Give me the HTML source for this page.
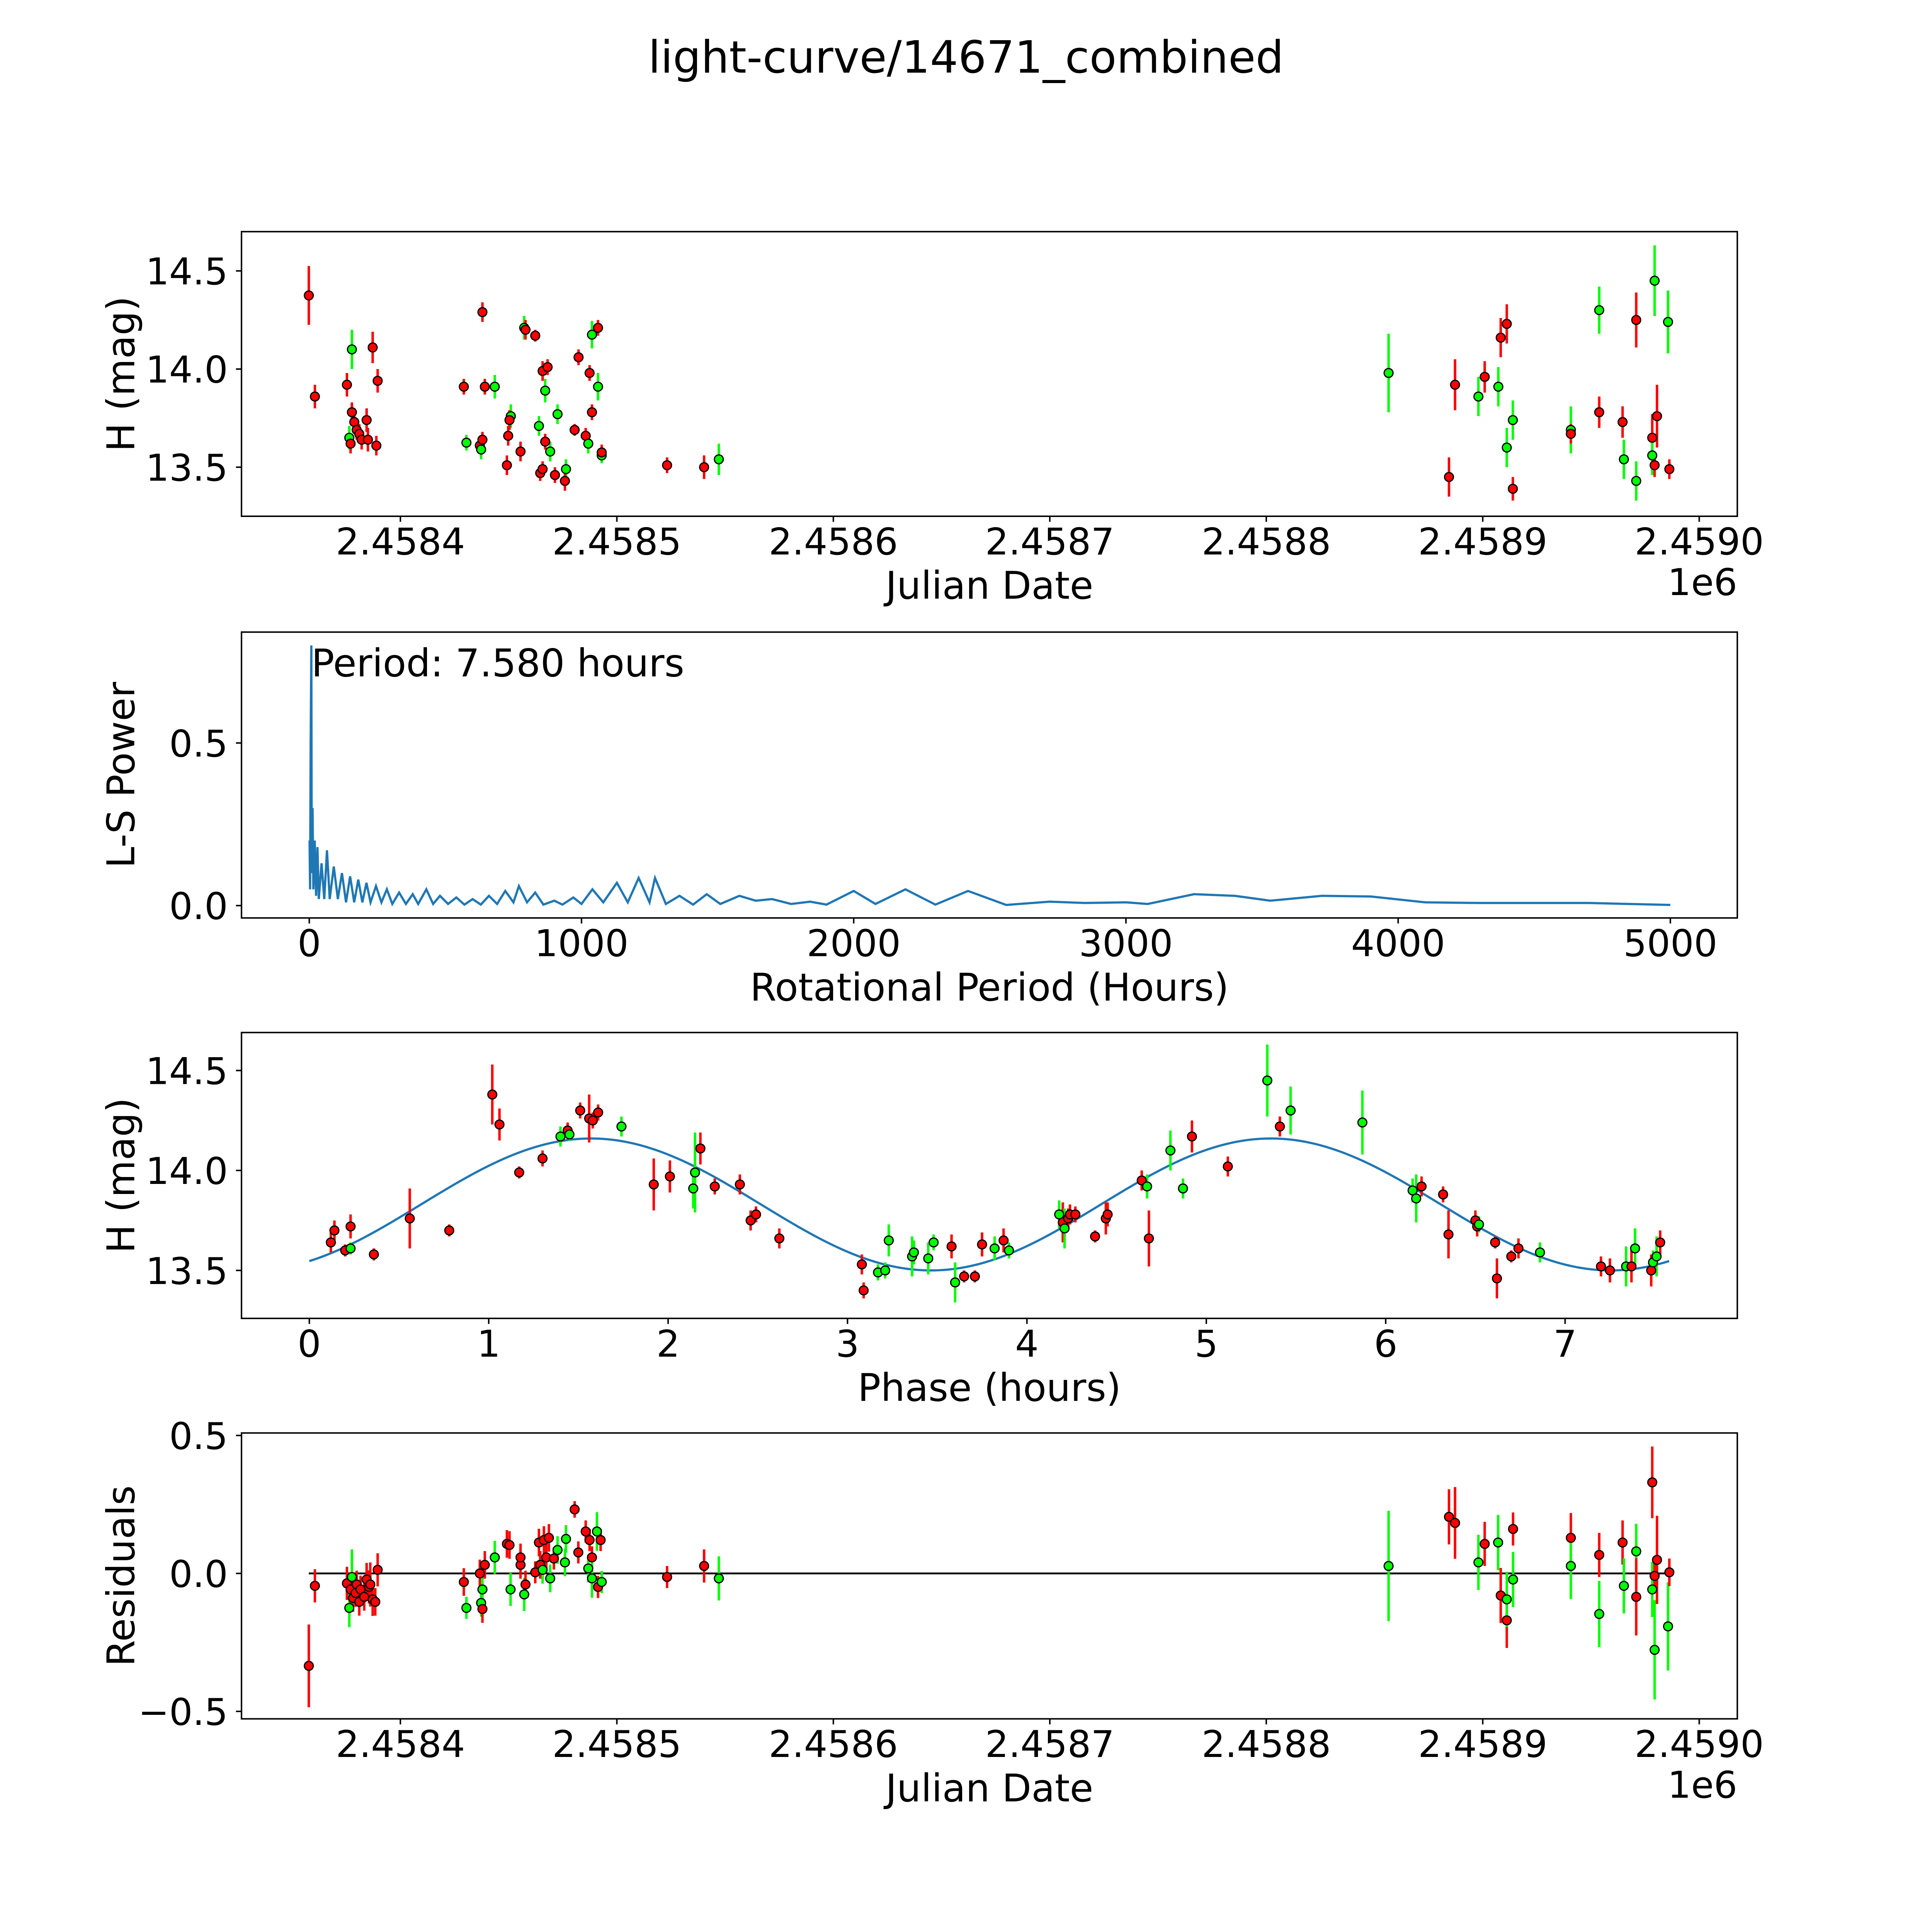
<!DOCTYPE html>
<html><head><meta charset="utf-8">
<style>
html,body{margin:0;padding:0;background:#fff;width:100%;height:100%;overflow:hidden}
#fig{display:block;position:absolute;left:0;top:0;width:100vw;height:100vh}
text{font-family:"DejaVu Sans","Liberation Sans",sans-serif;fill:#000}
</style>
</head><body>
<svg id="fig" xmlns="http://www.w3.org/2000/svg" viewBox="0 0 1568 1568" preserveAspectRatio="none">
<rect width="1568" height="1568" fill="#fff"/>
<text x="784" y="59" font-size="36" text-anchor="middle">light-curve/14671_combined</text>
</svg>
<script>
// Panel 1: [julian date, H mag, error, band]
const lcObs = [
[2458357.7,14.375,0.15,'r'],[2458360.5,13.86,0.06,'r'],[2458375.3,13.92,0.06,'r'],[2458377.6,14.10,0.1,'g'],[2458376.4,13.65,0.06,'g'],
[2458377.0,13.62,0.05,'r'],[2458377.6,13.78,0.05,'r'],[2458378.7,13.73,0.05,'r'],[2458379.8,13.69,0.05,'r'],[2458381.0,13.67,0.05,'r'],
[2458382.1,13.64,0.05,'r'],[2458384.4,13.74,0.06,'r'],[2458385.0,13.64,0.06,'r'],[2458387.2,14.11,0.08,'r'],[2458388.9,13.61,0.05,'r'],
[2458389.5,13.94,0.06,'r'],[2458429.3,13.91,0.04,'r'],[2458430.5,13.625,0.04,'g'],[2458436.7,13.61,0.04,'r'],[2458437.3,13.59,0.05,'g'],
[2458437.9,14.29,0.05,'r'],[2458439.0,13.91,0.04,'r'],[2458443.6,13.91,0.06,'g'],[2458437.9,13.64,0.04,'r'],[2458449.2,13.51,0.05,'r'],
[2458449.8,13.66,0.05,'r'],[2458451.0,13.76,0.06,'g'],[2458450.4,13.74,0.05,'r'],[2458455.5,13.58,0.05,'r'],[2458457.2,14.21,0.06,'g'],
[2458457.8,14.20,0.05,'r'],[2458462.3,14.17,0.03,'r'],[2458464.0,13.71,0.05,'g'],[2458464.6,13.47,0.04,'r'],[2458465.7,13.49,0.04,'r'],
[2458465.7,13.99,0.05,'r'],[2458466.9,13.89,0.06,'g'],[2458468.0,14.01,0.04,'r'],[2458466.9,13.63,0.04,'r'],[2458469.2,13.58,0.05,'g'],
[2458471.4,13.46,0.04,'r'],[2458472.6,13.77,0.05,'g'],[2458476.5,13.49,0.05,'g'],[2458476.0,13.43,0.05,'r'],[2458480.5,13.69,0.03,'r'],
[2458482.3,14.06,0.04,'r'],[2458485.6,13.66,0.04,'r'],[2458486.8,13.62,0.05,'g'],[2458487.4,13.98,0.04,'r'],[2458488.5,13.78,0.04,'r'],
[2458488.5,14.175,0.07,'g'],[2458491.3,14.21,0.04,'r'],[2458491.3,13.91,0.07,'g'],[2458493.0,13.56,0.04,'g'],[2458493.0,13.575,0.04,'r'],
[2458523.2,13.51,0.04,'r'],[2458540.3,13.50,0.06,'r'],[2458547.1,13.54,0.08,'g'],[2458856.5,13.98,0.2,'g'],[2458884.4,13.45,0.1,'r'],
[2458887.2,13.92,0.13,'r'],[2458898.0,13.86,0.1,'g'],[2458900.9,13.96,0.08,'r'],[2458907.2,13.91,0.1,'g'],[2458908.3,14.16,0.1,'r'],
[2458911.1,14.23,0.1,'r'],[2458911.1,13.60,0.1,'g'],[2458913.9,13.74,0.1,'g'],[2458913.9,13.39,0.06,'r'],[2458940.7,13.69,0.12,'g'],
[2458940.7,13.67,0.05,'r'],[2458953.8,14.30,0.12,'g'],[2458953.8,13.78,0.08,'r'],[2458964.6,13.73,0.08,'r'],[2458965.2,13.54,0.1,'g'],
[2458970.9,14.25,0.14,'r'],[2458970.9,13.43,0.1,'g'],[2458978.3,13.65,0.12,'r'],[2458978.3,13.56,0.1,'g'],[2458979.4,14.45,0.18,'g'],
[2458979.4,13.51,0.06,'r'],[2458980.5,13.76,0.16,'r'],[2458985.6,14.24,0.16,'g'],[2458986.2,13.49,0.05,'r']
];
// Panel 2: periodogram [period hours, power]
const lsPeriod = [1,3,5,7.58,9,12,15,20,25,30,35,45,55,65,75,90,105,120,135,150,165,180,195,210,225,245,265,285,305,330,355,380,400,430,455,480,510,540,570,600,630,660,690,720,750,770,800,830,860,900,930,970,1000,1040,1080,1130,1170,1210,1250,1270,1310,1360,1410,1460,1510,1580,1640,1700,1770,1840,1900,2000,2080,2190,2300,2420,2560,2720,2850,3000,3080,3250,3400,3530,3720,3900,4100,4300,4700,5000];
const lsPower = [0.2,0.05,0.5,0.8,0.1,0.3,0.05,0.2,0.03,0.18,0.02,0.13,0.02,0.17,0.02,0.12,0.02,0.1,0.01,0.09,0.01,0.08,0.01,0.07,0.01,0.06,0.01,0.05,0.005,0.04,0.005,0.035,0.005,0.05,0.005,0.03,0.005,0.025,0.003,0.02,0.003,0.03,0.005,0.045,0.01,0.06,0.01,0.04,0.003,0.015,0.003,0.025,0.005,0.05,0.01,0.07,0.01,0.085,0.01,0.085,0.005,0.03,0.003,0.035,0.005,0.03,0.015,0.02,0.005,0.012,0.003,0.045,0.005,0.05,0.003,0.045,0.002,0.012,0.008,0.01,0.005,0.035,0.03,0.015,0.03,0.028,0.01,0.008,0.008,0.002];
const periodLabel = "Period: 7.580 hours";
// Panel 3: [phase hours, mag, err, band]
const phObs = [
[0.12,13.64,0.05,'r'],[0.14,13.70,0.05,'r'],[0.20,13.60,0.03,'r'],[0.23,13.61,0.03,'g'],[0.23,13.72,0.06,'r'],[0.36,13.58,0.03,'r'],[0.56,13.76,0.15,'r'],[0.78,13.70,0.03,'r'],
[1.02,14.38,0.15,'r'],[1.06,14.23,0.08,'r'],[1.17,13.99,0.03,'r'],[1.30,14.06,0.04,'r'],[1.40,14.17,0.05,'g'],[1.44,14.20,0.04,'r'],[1.45,14.18,0.03,'g'],[1.51,14.30,0.04,'r'],
[1.56,14.26,0.12,'r'],[1.58,14.25,0.04,'r'],[1.61,14.29,0.04,'r'],[1.74,14.22,0.05,'g'],[1.92,13.93,0.13,'r'],[2.01,13.97,0.08,'r'],[2.14,13.91,0.1,'g'],[2.15,13.99,0.2,'g'],
[2.18,14.11,0.08,'r'],[2.26,13.92,0.04,'r'],[2.40,13.93,0.05,'r'],[2.46,13.75,0.05,'r'],[2.49,13.78,0.04,'r'],[2.62,13.66,0.05,'r'],[3.08,13.53,0.05,'r'],[3.09,13.40,0.04,'r'],
[3.17,13.49,0.04,'g'],[3.21,13.50,0.04,'g'],[3.23,13.65,0.08,'g'],[3.36,13.57,0.1,'g'],[3.37,13.59,0.06,'g'],[3.45,13.56,0.08,'g'],[3.48,13.64,0.04,'g'],[3.58,13.62,0.06,'r'],
[3.60,13.44,0.1,'g'],[3.65,13.47,0.03,'r'],[3.71,13.47,0.03,'r'],[3.75,13.63,0.06,'r'],[3.82,13.61,0.06,'g'],[3.87,13.65,0.06,'r'],[3.90,13.60,0.04,'g'],[4.18,13.78,0.07,'g'],
[4.20,13.74,0.1,'r'],[4.21,13.71,0.1,'g'],[4.23,13.76,0.05,'r'],[4.24,13.78,0.05,'r'],[4.27,13.78,0.04,'r'],[4.38,13.67,0.03,'r'],[4.44,13.76,0.08,'r'],[4.45,13.78,0.06,'r'],
[4.64,13.95,0.05,'r'],[4.67,13.92,0.06,'g'],[4.80,14.10,0.1,'g'],[4.87,13.91,0.05,'g'],[4.68,13.66,0.14,'r'],[4.92,14.17,0.08,'r'],[5.12,14.02,0.05,'r'],[5.34,14.45,0.18,'g'],
[5.41,14.22,0.05,'r'],[5.47,14.30,0.12,'g'],[5.87,14.24,0.16,'g'],[6.15,13.90,0.06,'g'],[6.17,13.86,0.12,'g'],[6.20,13.92,0.05,'r'],[6.32,13.88,0.04,'r'],[6.35,13.68,0.12,'r'],
[6.50,13.75,0.05,'r'],[6.51,13.72,0.05,'r'],[6.52,13.73,0.04,'g'],[6.61,13.64,0.03,'r'],[6.62,13.46,0.1,'r'],[6.70,13.57,0.03,'r'],[6.74,13.61,0.05,'r'],[6.86,13.59,0.05,'g'],
[7.20,13.52,0.05,'r'],[7.25,13.50,0.06,'r'],[7.34,13.52,0.1,'g'],[7.37,13.52,0.08,'r'],[7.39,13.61,0.1,'g'],[7.48,13.50,0.08,'r'],[7.49,13.54,0.06,'g'],[7.51,13.57,0.1,'g'],[7.53,13.64,0.06,'r']
];
// sinusoid fit parameters
const fitMean = 13.83, fitAmp = 0.33, fitPeak = 1.57, fitHalfPeriod = 3.79, fitEnd = 7.58;
// Panel 4: [julian date, residual, err, band]
const resObs = [
[2458357.7,-0.335,0.15,'r'],[2458360.5,-0.045,0.06,'r'],[2458375.3,-0.036,0.06,'r'],[2458376.4,-0.125,0.07,'g'],[2458377.0,-0.058,0.05,'r'],[2458377.6,-0.013,0.1,'g'],
[2458378.1,-0.089,0.05,'r'],[2458379.3,-0.071,0.05,'r'],[2458379.8,-0.040,0.05,'r'],[2458381.0,-0.103,0.05,'r'],[2458381.6,-0.058,0.05,'r'],[2458383.3,-0.085,0.05,'r'],
[2458384.4,-0.022,0.06,'r'],[2458385.5,-0.049,0.06,'r'],[2458386.1,-0.040,0.08,'r'],[2458387.2,-0.094,0.06,'r'],[2458388.4,-0.103,0.05,'r'],[2458389.5,0.013,0.06,'r'],
[2458429.3,-0.031,0.05,'r'],[2458430.5,-0.125,0.04,'g'],[2458436.7,0,0.05,'r'],[2458437.3,-0.107,0.05,'g'],[2458437.9,-0.129,0.05,'r'],[2458437.9,-0.058,0.05,'g'],
[2458439.0,0.031,0.05,'r'],[2458443.6,0.058,0.06,'g'],[2458449.2,0.107,0.05,'r'],[2458450.4,0.103,0.05,'r'],[2458450.9,-0.058,0.06,'g'],[2458455.5,0.031,0.05,'r'],
[2458455.5,0.058,0.05,'r'],[2458457.2,-0.076,0.06,'g'],[2458457.8,-0.040,0.05,'r'],[2458462.3,0.004,0.04,'r'],[2458464.0,0.112,0.05,'r'],[2458464.6,0.031,0.05,'r'],
[2458465.7,0.013,0.05,'g'],[2458466.3,0.121,0.05,'r'],[2458467.4,0.058,0.05,'r'],[2458468.6,0.129,0.05,'r'],[2458469.2,-0.018,0.05,'g'],[2458470.9,0.054,0.04,'r'],
[2458472.6,0.085,0.05,'g'],[2458476.0,0.040,0.05,'g'],[2458476.5,0.125,0.05,'g'],[2458480.5,0.232,0.03,'r'],[2458482.2,0.076,0.04,'r'],[2458485.6,0.152,0.04,'r'],
[2458486.8,0.018,0.05,'g'],[2458487.4,0.121,0.04,'r'],[2458488.5,0.058,0.04,'r'],[2458488.5,-0.018,0.07,'g'],[2458490.8,0.152,0.07,'g'],[2458491.3,-0.049,0.04,'r'],
[2458492.5,0.121,0.04,'r'],[2458493.0,-0.031,0.04,'g'],[2458523.2,-0.013,0.04,'r'],[2458540.3,0.027,0.06,'r'],[2458547.1,-0.018,0.08,'g'],[2458856.5,0.027,0.2,'g'],
[2458884.4,0.205,0.1,'r'],[2458887.2,0.183,0.13,'r'],[2458898.0,0.040,0.1,'g'],[2458900.9,0.107,0.08,'r'],[2458907.1,0.112,0.1,'g'],[2458908.3,-0.080,0.1,'r'],
[2458911.1,-0.170,0.1,'r'],[2458911.1,-0.094,0.1,'g'],[2458914.0,0.161,0.06,'r'],[2458914.0,-0.022,0.1,'g'],[2458940.7,0.129,0.09,'r'],[2458940.7,0.027,0.12,'g'],
[2458953.8,0.067,0.08,'r'],[2458953.8,-0.147,0.12,'g'],[2458964.6,0.112,0.08,'r'],[2458965.2,-0.045,0.1,'g'],[2458970.9,0.080,0.1,'g'],[2458970.9,-0.085,0.14,'r'],
[2458978.3,0.330,0.13,'r'],[2458978.3,-0.058,0.1,'g'],[2458979.4,-0.277,0.18,'g'],[2458979.4,-0.009,0.06,'r'],[2458980.5,0.049,0.16,'r'],[2458985.6,-0.192,0.16,'g'],[2458986.2,0.004,0.05,'r']
];
const jdTicks = [2458400,2458500,2458600,2458700,2458800,2458900,2459000];
const jdTickLabels = ["2.4584","2.4585","2.4586","2.4587","2.4588","2.4589","2.4590"];
const magTicks = [13.5,14.0,14.5];
const magTickLabels = ["13.5","14.0","14.5"];
const powTicks = [0,0.5];
const powTickLabels = ["0.0","0.5"];
const perTicks = [0,1000,2000,3000,4000,5000];
const perTickLabels = ["0","1000","2000","3000","4000","5000"];
const phTicks = [0,1,2,3,4,5,6,7];
const phTickLabels = ["0","1","2","3","4","5","6","7"];
const resTicks = [-0.5,0,0.5];
const resTickLabels = ["\u22120.5","0.0","0.5"];

const NS = "http://www.w3.org/2000/svg";
const fig = document.getElementById('fig');
const L = 196, R = 1410;
const TICK_FS = 30, LABEL_FS = 31;
function mk(tag, attrs, parent) {
  const e = document.createElementNS(NS, tag);
  for (const k in attrs) e.setAttribute(k, attrs[k]);
  (parent || fig).appendChild(e);
  return e;
}
function scale(d0, d1, r0, r1) { return v => r0 + (v - d0) / (d1 - d0) * (r1 - r0); }

function panel(name, top, bot, xd, yd, xt, xtl, yt, ytl, xlabel, ylabel, offText) {
  const g = mk('g', {});
  
  
  const sx = scale(xd[0], xd[1], L, R), sy = scale(yd[0], yd[1], bot, top);
  const plot = mk('g', {}, g);
  
  
  xt.forEach((t, i) => {
    const x = sx(t);
    const tk = mk('line', {x1: x, x2: x, y1: bot, y2: bot + 4.5, stroke: '#000', 'stroke-width': 1.2}, g);
    
    
    const tx = mk('text', {x: x, y: bot + 31, 'font-size': TICK_FS, 'text-anchor': 'middle'}, g);
    
    
    tx.textContent = xtl[i];
  });
  yt.forEach((t, i) => {
    const y = sy(t);
    const tk = mk('line', {x1: L - 4.5, x2: L, y1: y, y2: y, stroke: '#000', 'stroke-width': 1.2}, g);
    
    
    const tx = mk('text', {x: L - 11, y: y + 11, 'font-size': TICK_FS, 'text-anchor': 'end'}, g);
    
    
    tx.textContent = ytl[i];
  });
  const xl = mk('text', {x: (L + R) / 2, y: bot + 67, 'font-size': LABEL_FS, 'text-anchor': 'middle'}, g);
  
  
  xl.textContent = xlabel;
  const yx = 109, yy = (top + bot) / 2;
  const yl = mk('text', {x: yx, y: yy, 'font-size': LABEL_FS, 'text-anchor': 'middle', transform: `rotate(-90 ${yx} ${yy})`}, g);
  
  
  yl.textContent = ylabel;
  if (offText) {
    const ot = mk('text', {x: R, y: bot + 64, 'font-size': TICK_FS, 'text-anchor': 'end'}, g);
    
    
    ot.textContent = offText;
  }
  return {g, plot, sx, sy, top, bot};
}
function frame(p, name) {
  const f = mk('rect', {x: L, y: p.top, width: R - L, height: p.bot - p.top, fill: 'none', stroke: '#000', 'stroke-width': 1.2}, p.g);
  
  
}
function points(p, obs, name) {
  obs.forEach(o => {
    const x = p.sx(o[0]);
    const col = o[3] === 'g' ? '#00ff00' : '#ff0000';
    const eb = mk('line', {x1: x, x2: x, y1: p.sy(o[1] - o[2]), y2: p.sy(o[1] + o[2]), stroke: col, 'stroke-width': 2}, p.plot);
    
    
  });
  obs.forEach(o => {
    const col = o[3] === 'g' ? '#00ff00' : '#ff0000';
    const c = mk('circle', {cx: p.sx(o[0]), cy: p.sy(o[1]), r: 3.6, fill: col, stroke: '#000', 'stroke-width': 1}, p.plot);
    
    
  });
}

const jdDomain = [2458326.6, 2459017.6];

// Panel 1
const p1 = panel('light-curve-panel', 188, 419, jdDomain, [13.25, 14.70], jdTicks, jdTickLabels, magTicks, magTickLabels, 'Julian Date', 'H (mag)', '1e6');
points(p1, lcObs, 'observation');
frame(p1, 'light-curve-panel');

// Panel 2
const p2 = panel('periodogram-panel', 513, 745, [-249, 5246], [-0.038, 0.841], perTicks, perTickLabels, powTicks, powTickLabels, 'Rotational Period (Hours)', 'L-S Power', null);
let dstr = '';
lsPeriod.forEach((v, i) => { dstr += (i ? 'L' : 'M') + p2.sx(v).toFixed(2) + ' ' + p2.sy(lsPower[i]).toFixed(2); });
const ls = mk('path', {d: dstr, fill: 'none', stroke: '#1f77b4', 'stroke-width': 1.8}, p2.plot);


const pl = mk('text', {x: p2.sx(7.58), y: 549, 'font-size': LABEL_FS}, p2.g);


pl.textContent = periodLabel;
frame(p2, 'periodogram-panel');

// Panel 3
const p3 = panel('phase-panel', 838, 1070, [-0.378, 7.96], [13.26, 14.69], phTicks, phTickLabels, magTicks, magTickLabels, 'Phase (hours)', 'H (mag)', null);
let fd = '';
for (let i = 0; i <= 300; i++) {
  const ph = fitEnd * i / 300;
  const m = fitMean + fitAmp * Math.cos(2 * Math.PI * (ph - fitPeak) / fitHalfPeriod);
  fd += (i ? 'L' : 'M') + p3.sx(ph).toFixed(2) + ' ' + p3.sy(m).toFixed(2);
}
const fl = mk('path', {d: fd, fill: 'none', stroke: '#1f77b4', 'stroke-width': 1.8}, p3.plot);


points(p3, phObs, 'phased-observation');
frame(p3, 'phase-panel');

// Panel 4
const p4 = panel('residuals-panel', 1163, 1395, jdDomain, [-0.527, 0.509], jdTicks, jdTickLabels, resTicks, resTickLabels, 'Julian Date', 'Residuals', '1e6');
const zl = mk('line', {x1: p4.sx(resObs[0][0]), x2: p4.sx(resObs[resObs.length - 1][0]), y1: p4.sy(0), y2: p4.sy(0), stroke: '#000', 'stroke-width': 1.5}, p4.plot);


points(p4, resObs, 'residual');
frame(p4, 'residuals-panel');
</script>
</body></html>
